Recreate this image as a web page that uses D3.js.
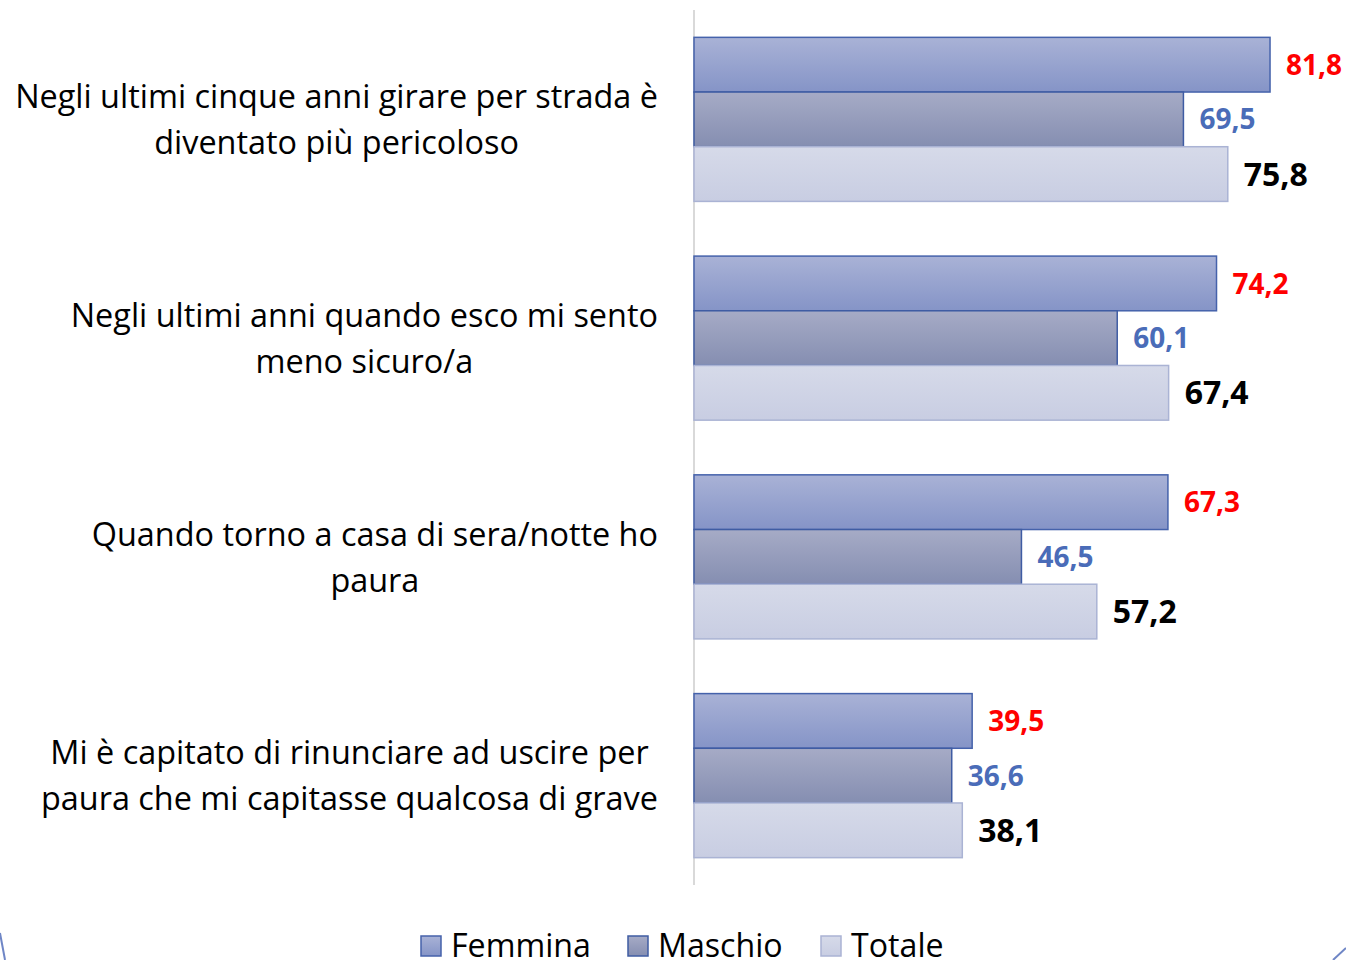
<!DOCTYPE html>
<html><head><meta charset="utf-8">
<script src="https://cdn.jsdelivr.net/npm/d3@7"></script>
<style>body{margin:0;background:#fff;}svg{display:block;}</style>
</head><body>
<script>
const categories = [
  ["Negli ultimi cinque anni girare per strada è", "diventato più pericoloso"],
  ["Negli ultimi anni quando esco mi sento", "meno sicuro/a"],
  ["Quando torno a casa di sera/notte ho", "paura"],
  ["Mi è capitato di rinunciare ad uscire per", "paura che mi capitasse qualcosa di grave"]
];
const seriesNames = ["Femmina", "Maschio", "Totale"];
const femmina = [81.8, 74.2, 67.3, 39.5];
const maschio = [69.5, 60.1, 46.5, 36.6];
const totale = [75.8, 67.4, 57.2, 38.1];
const seriesValues = [femmina, maschio, totale];

const W = 1346, H = 960;
const svg = d3.select("body").append("svg").attr("width", W).attr("height", H);
const font = "'Open Sans', Lato, sans-serif";

// measure helper to size fonts so widths match the reference layout
function fitSize(txt, target, weight) {
  const t = svg.append("text").attr("font-family", font).attr("font-weight", weight).attr("font-size", 100).text(txt);
  const w = t.node().getComputedTextLength();
  t.remove();
  return 100 * target / w;
}
const catSize = fitSize(categories[0][0], 643, "normal");
const valSize = fitSize("81,8", 56, "bold");
const totSize = fitSize("75,8", 64, "bold");
const legSize = fitSize("Femmina", 140, "normal");

const defs = svg.append("defs");
const grads = [
  {id:"gF", top:"#a9b2d6", bot:"#8594c7", stroke:"#4562ab"},
  {id:"gM", top:"#a6abc6", bot:"#858eb1", stroke:"#3f5ca3"},
  {id:"gT", top:"#d6dae9", bot:"#c8cde2", stroke:"#aab3d4"}
];
grads.forEach(g => {
  const lg = defs.append("linearGradient").attr("id", g.id).attr("x1",0).attr("y1",0).attr("x2",0).attr("y2",1);
  lg.append("stop").attr("offset","0%").attr("stop-color", g.top);
  lg.append("stop").attr("offset","100%").attr("stop-color", g.bot);
});
const labelColors = ["#ff0000", "#4a6cb8", "#000000"];
const labelSizes = [valSize, valSize, totSize];

const x0 = 694, plotTop = 10, plotBottom = 885;
const x = d3.scaleLinear().domain([0, 100]).range([x0, x0 + 704.2]);
const y = d3.scaleBand().domain(d3.range(categories.length)).range([plotTop, plotBottom]).paddingInner(0.25).paddingOuter(0.125);
const ySub = d3.scaleBand().domain(d3.range(3)).range([0, y.bandwidth()]);

svg.append("line").attr("x1", x0).attr("x2", x0).attr("y1", plotTop).attr("y2", plotBottom)
  .attr("stroke", "#d9d9d9").attr("stroke-width", 2);

categories.forEach((cat, i) => {
  const g = svg.append("g").attr("transform", `translate(0,${y(i)})`);
  seriesValues.forEach((vals, s) => {
    const v = vals[i];
    g.append("rect").attr("x", x0).attr("y", ySub(s)).attr("width", x(v) - x0).attr("height", ySub.bandwidth())
      .attr("fill", `url(#${grads[s].id})`).attr("stroke", grads[s].stroke).attr("stroke-width", 1.5);
    g.append("text").attr("x", x(v) + 16).attr("y", ySub(s) + ySub.bandwidth()/2)
      .attr("dy", "0.36em").attr("font-family", font).attr("font-weight", "bold")
      .attr("font-size", labelSizes[s]).attr("fill", labelColors[s])
      .text(v.toFixed(1).replace(".", ","));
  });
  const cy = y(i) + y.bandwidth()/2;
  const lines = cat.map((line, k) => svg.append("text").attr("y", cy - 23 + k*46).attr("dy", "0.36em")
      .attr("text-anchor", "middle").attr("font-family", font).attr("font-size", catSize).attr("fill", "#000")
      .text(line));
  const maxW = d3.max(lines, t => t.node().getComputedTextLength());
  lines.forEach(t => t.attr("x", 658 - maxW/2));
});

const legX = [421, 628, 821];
seriesNames.forEach((n, s) => {
  svg.append("rect").attr("x", legX[s]).attr("y", 936).attr("width", 20).attr("height", 20)
    .attr("fill", `url(#${grads[s].id})`).attr("stroke", grads[s].stroke).attr("stroke-width", 1.5);
  svg.append("text").attr("x", legX[s] + 30).attr("y", 945).attr("dy", "0.36em")
    .attr("font-family", font).attr("font-size", legSize).attr("fill", "#000").text(n);
});

svg.append("line").attr("x1", 0).attr("y1", 933).attr("x2", 5).attr("y2", 960).attr("stroke", "#6f86c6").attr("stroke-width", 2);
svg.append("line").attr("x1", 1346).attr("y1", 948).attr("x2", 1333).attr("y2", 960).attr("stroke", "#6f86c6").attr("stroke-width", 2);
</script>
</body></html>
